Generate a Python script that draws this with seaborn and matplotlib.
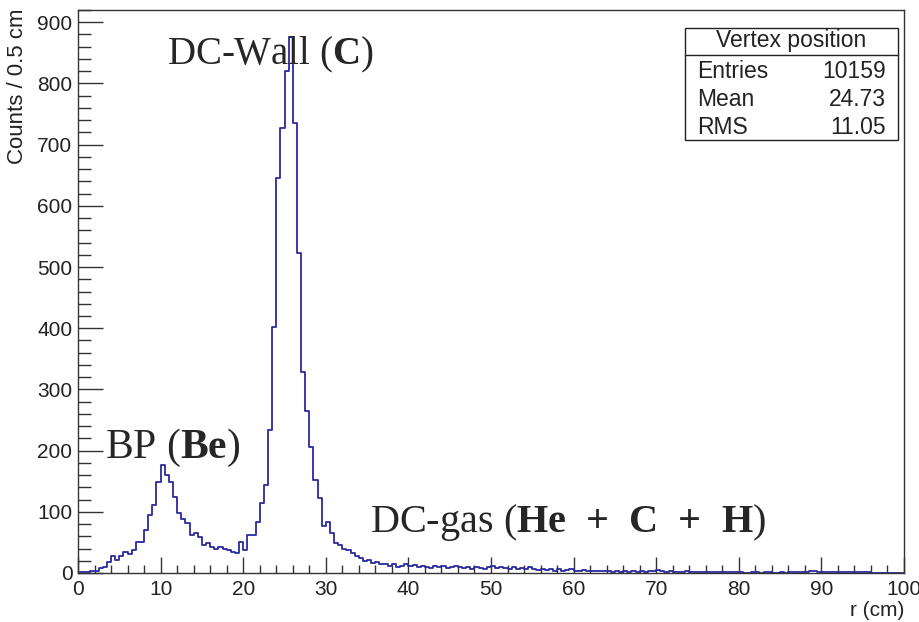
import numpy as np
import pandas as pd
import matplotlib
matplotlib.use("Agg")
import matplotlib.pyplot as plt
import seaborn as sns
from matplotlib.patches import Rectangle
from matplotlib.lines import Line2D
from matplotlib.ticker import MultipleLocator

# histogram bins: 0.5 cm wide, 0 - 100 cm
bin_width = 0.5
bin_lo = np.arange(0, 100, bin_width)
counts = [
    1, 2, 2, 3, 4, 8, 10, 18, 27, 22,            # 0 - 5
    28, 35, 31, 38, 51, 51, 70, 95, 111, 149,    # 5 - 10
    177, 160, 149, 125, 98, 89, 82, 62, 65, 59,  # 10 - 15
    46, 49, 43, 40, 43, 40, 37, 35, 33, 51,      # 15 - 20
    38, 62, 62, 84, 114, 144, 234, 402, 645, 727,  # 20 - 25
    820, 876, 735, 523, 328, 264, 206, 152, 122, 76,  # 25 - 30
    84, 65, 49, 45, 40, 38, 32, 28, 25, 20,      # 30 - 35
    22, 17, 18, 14, 15, 12, 14, 10, 12, 15,      # 35 - 40
    11, 13, 9, 12, 10, 8, 11, 9, 12, 8,          # 40 - 45
    10, 12, 9, 8, 10, 7, 9, 8, 7, 9,             # 45 - 50
    12, 8, 10, 8, 7, 9, 6, 8, 7, 9,              # 50 - 55
    6, 5, 7, 5, 6, 4, 6, 4, 5, 6,                # 55 - 60
    4, 3, 5, 4, 3, 4, 3, 4, 3, 2,                # 60 - 65
    3, 2, 3, 2, 3, 2, 3, 2, 4, 3,                # 65 - 70
    5, 4, 2, 3, 2, 1, 2, 3, 1, 2,                # 70 - 75
    1, 2, 1, 1, 2, 1, 1, 2, 1, 1,                # 75 - 80
    1, 0, 0, 1, 2, 0, 1, 2, 0, 0,                # 80 - 85
    1, 0, 1, 1, 1, 2, 2, 3, 4, 2,                # 85 - 90
    1, 2, 1, 2, 1, 2, 1, 1, 2, 1,                # 90 - 95
    2, 1, 0, 0, 0, 0, 0, 0, 0, 0,                # 95 - 100
]

stats_title = "Vertex position"
stats_names = ["Entries", "Mean", "RMS"]
stats_values = ["10159", "24.73", "11.05"]

sns.set_theme(style="white")
plt.rcParams["font.family"] = ["Liberation Sans", "DejaVu Sans"]
plt.rcParams["mathtext.fontset"] = "custom"
plt.rcParams["mathtext.rm"] = "Liberation Serif"
plt.rcParams["mathtext.bf"] = "Liberation Serif:bold"

W, H = 920, 622
fig = plt.figure(figsize=(W / 100, H / 100), dpi=100)
fig.patch.set_facecolor("white")
# axes frame in pixel coords: x 78..904, y 10..573
ax = fig.add_axes([78 / W, 1 - 573 / H, (904 - 78) / W, (573 - 10) / H])
ax.set_facecolor("white")

df = pd.DataFrame({"r": bin_lo + bin_width / 2, "n": counts})
sns.histplot(data=df, x="r", weights="n", binwidth=bin_width, binrange=(0, 100),
             element="step", fill=False, color="#2a2a9e", linewidth=1.3, ax=ax)

ax.set_xlim(0, 100)
ax.set_ylim(0, 920)
ax.xaxis.set_major_locator(MultipleLocator(10))
ax.xaxis.set_minor_locator(MultipleLocator(2))
ax.yaxis.set_major_locator(MultipleLocator(100))
ax.yaxis.set_minor_locator(MultipleLocator(20))

for s in ax.spines.values():
    s.set_visible(True)
    s.set_color("#333333")
    s.set_linewidth(1.0)

ax.tick_params(which="both", bottom=True, left=True, top=False, right=False)
ax.tick_params(axis="x", which="major", direction="in", length=11.5, width=1,
               color="#333333", labelsize=15, pad=5, labelcolor="#222222")
ax.tick_params(axis="x", which="minor", direction="in", length=5.8, width=1,
               color="#333333")
ax.tick_params(axis="y", which="major", direction="in", length=18, width=1,
               color="#333333", labelsize=15, pad=4, labelcolor="#222222")
ax.tick_params(axis="y", which="minor", direction="in", length=9, width=1,
               color="#333333")

ax.set_xlabel("r (cm)", loc="right", fontsize=15, color="#222222")
ax.xaxis.set_label_coords(1.0, -(601 - 573) / 563)
ax.set_ylabel("Counts / 0.5 cm", loc="top", fontsize=16, color="#222222")
ax.yaxis.set_label_coords(-(78 - 28) / 826, 1.0 + 2 / 563)

# annotations
serif = "Liberation Serif"
ax.text(10.8, 846, r"DC-Wall ($\mathbf{C}$)", fontsize=28, family=serif,
        ha="left", va="center")
ax.text(3.3, 204, r"BP ($\mathbf{Be}$)", fontsize=30, family=serif,
        ha="left", va="center")
ax.text(35.4, 82,
        r"DC-gas ($\mathbf{He}$  $\mathbf{+}$  $\mathbf{C}$  $\mathbf{+}$  $\mathbf{H}$)",
        fontsize=29, family=serif, ha="left", va="center")

# stats box (ROOT style)
def fx(px):
    return px / W

def fy(py):
    return 1 - py / H

bx0, bx1, by0, by1, bsep = 685, 898, 28, 140, 55
fig.add_artist(Rectangle((fx(bx0), fy(by1)), fx(bx1) - fx(bx0), fy(by0) - fy(by1),
                         transform=fig.transFigure, facecolor="white",
                         edgecolor="#222222", linewidth=1.0, zorder=5))
fig.add_artist(Line2D([fx(bx0), fx(bx1)], [fy(bsep), fy(bsep)],
                      transform=fig.transFigure, color="#222222", linewidth=1.0,
                      zorder=6))
fig.text(fx((bx0 + bx1) / 2), fy(41), stats_title, fontsize=16.5,
         ha="center", va="center", color="#222222", zorder=7)
row_y = [71, 99, 127]
for name, val, yy in zip(stats_names, stats_values, row_y):
    fig.text(fx(697), fy(yy), name, fontsize=16.5, ha="left", va="center",
             color="#222222", zorder=7)
    fig.text(fx(886), fy(yy), val, fontsize=16.5, ha="right", va="center",
             color="#222222", zorder=7)

fig.savefig("out.png", dpi=100)
